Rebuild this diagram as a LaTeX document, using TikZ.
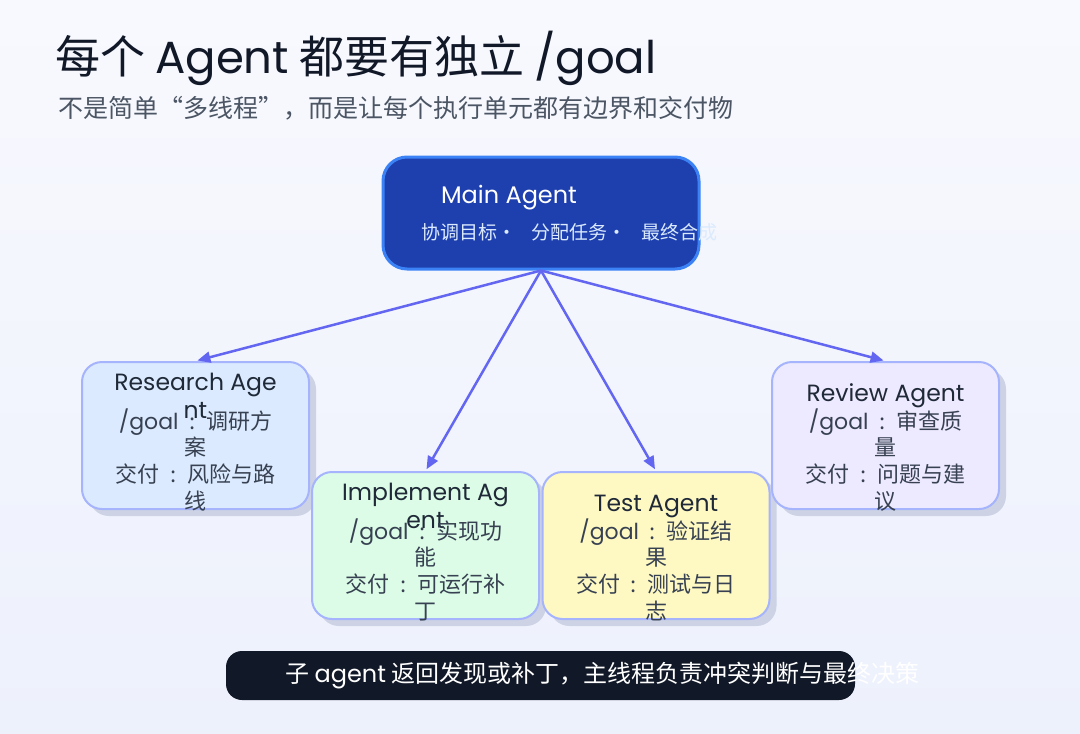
\documentclass[tikz,border=0pt]{standalone}
\usepackage{fontspec}
\setmainfont{Noto Sans CJK SC}
\newfontfamily\latf{Poppins}
\usetikzlibrary{arrows.meta,shadows}
\definecolor{bgtop}{HTML}{F8F9FE}
\definecolor{bgbot}{HTML}{EDF1FC}
\definecolor{titlec}{HTML}{111827}
\definecolor{subc}{HTML}{4B5563}
\definecolor{mainfill}{HTML}{1E40AF}
\definecolor{mainborder}{HTML}{3B82F6}
\definecolor{mainsub}{HTML}{DBEAFE}
\definecolor{resfill}{HTML}{DBEAFE}
\definecolor{impfill}{HTML}{DCFCE7}
\definecolor{testfill}{HTML}{FEF9C3}
\definecolor{revfill}{HTML}{EDE9FE}
\definecolor{agborder}{HTML}{A5B4FC}
\definecolor{shadowc}{HTML}{CDD3E5}
\definecolor{arrowc}{HTML}{6366F1}
\definecolor{barfill}{HTML}{111827}
\definecolor{agtext}{HTML}{1F2937}
\definecolor{bodytext}{HTML}{374151}
\newcommand\fsz[1]{\fontsize{#1}{#1}\selectfont}
\newcommand\lat[1]{{\latf #1}}
\newcommand\cn{\makebox[1.25em]{:}}
\begin{document}
\begin{tikzpicture}[x=1pt,y=-1pt,
  txt/.style={inner sep=0pt},
  s45/.style={txt, font=\fsz{45}, text height=38.25pt, text depth=6.75pt},
  s25/.style={txt, font=\fsz{25}, text height=21.25pt, text depth=3.75pt},
  s24/.style={txt, font=\fsz{24}, text height=20.4pt, text depth=3.6pt},
  s23/.style={txt, font=\fsz{23.5}, text height=20pt, text depth=3.5pt},
  s22/.style={txt, font=\fsz{22}, text height=18.7pt, text depth=3.3pt},
  s19/.style={txt, font=\fsz{19}, text height=16.15pt, text depth=2.85pt},
  agbox/.style={draw=agborder, line width=2pt, rounded corners=20pt,
    minimum width=227pt, minimum height=147pt, inner sep=0pt,
    drop shadow={shadow xshift=7pt, shadow yshift=-7pt, opacity=1, fill=shadowc}},
  agtitle/.style={s23, text=agtext},
  agbody/.style={s22, text=bodytext},
  flow/.style={draw=arrowc, line width=2.5pt, -{Triangle[length=13pt,width=11pt]}, shorten >=2pt}
]
\useasboundingbox (0,0) rectangle (1080,734);
\shade[top color=bgtop, bottom color=bgbot] (0,0) rectangle (1080,734);

% title
\node[s45, anchor=west, text=titlec] (title) at (55,58) {每个 \lat{Agent} 都要有独立 \lat{/goal}};
\node[s25, anchor=west, text=subc] (subtitle) at (58,109) {不是简单“多线程”，而是让每个执行单元都有边界和交付物};

% main agent
\node[draw=mainborder, fill=mainfill, line width=3pt, rounded corners=24pt,
  minimum width=316pt, minimum height=112pt, inner sep=0pt] (main) at (541,213) {};
\node[s24, text=white] (maint) at (509,195) {\lat{Main Agent}};
\node[s19, anchor=west, text=mainsub] (mains) at (421,233)
  {协调目标·\hspace{15pt}分配任务·\hspace{15pt}最终合成};

% agent boxes
\node[agbox, fill=resfill] (research) at (195.5,435.5) {};
\node[agbox, fill=impfill] (implement) at (425.5,545.5) {};
\node[agbox, fill=testfill] (test) at (656,545.5) {};
\node[agbox, fill=revfill] (review) at (885.5,435.5) {};

% research text
\node[agtitle] (rt1) at (195.5,382) {\lat{Research Age}};
\node[agtitle] (rt2) at (195.5,410) {\lat{nt}};
\node[agbody] (rg1) at (195.5,422) {\lat{/goal}\cn 调研方};
\node[agbody] (rg2) at (195.5,448) {案};
\node[agbody] (rd1) at (195.5,475) {交付\cn 风险与路};
\node[agbody] (rd2) at (195.5,502) {线};

% implement text
\node[agtitle] (it1) at (425.5,492) {\lat{Implement Ag}};
\node[agtitle] (it2) at (425.5,520) {\lat{ent}};
\node[agbody] (ig1) at (425.5,532) {\lat{/goal}\cn 实现功};
\node[agbody] (ig2) at (425.5,558) {能};
\node[agbody] (id1) at (425.5,585) {交付\cn 可运行补};
\node[agbody] (id2) at (425.5,612) {丁};

% test text
\node[agtitle] (tt1) at (656,503) {\lat{Test Agent}};
\node[agbody] (tg1) at (656,532) {\lat{/goal}\cn 验证结};
\node[agbody] (tg2) at (656,558) {果};
\node[agbody] (td1) at (656,585) {交付\cn 测试与日};
\node[agbody] (td2) at (656,612) {志};

% review text
\node[agtitle] (vt1) at (885.5,393) {\lat{Review Agent}};
\node[agbody] (vg1) at (885.5,422) {\lat{/goal}\cn 审查质};
\node[agbody] (vg2) at (885.5,448) {量};
\node[agbody] (vd1) at (885.5,475) {交付\cn 问题与建};
\node[agbody] (vd2) at (885.5,502) {议};

% arrows
\draw[flow] (main.south) -- (research.north);
\draw[flow] (main.south) -- (implement.north);
\draw[flow] (main.south) -- (test.north);
\draw[flow] (main.south) -- (review.north);

% bottom bar
\node[fill=barfill, rounded corners=16pt, minimum width=629pt, minimum height=49pt, inner sep=0pt] (bar) at (540.5,675.5) {};
\node[s24, anchor=west, text=white] (bart) at (285,674) {子 \lat{agent} 返回发现或补丁，主线程负责冲突判断与最终决策};
\end{tikzpicture}
\end{document}
